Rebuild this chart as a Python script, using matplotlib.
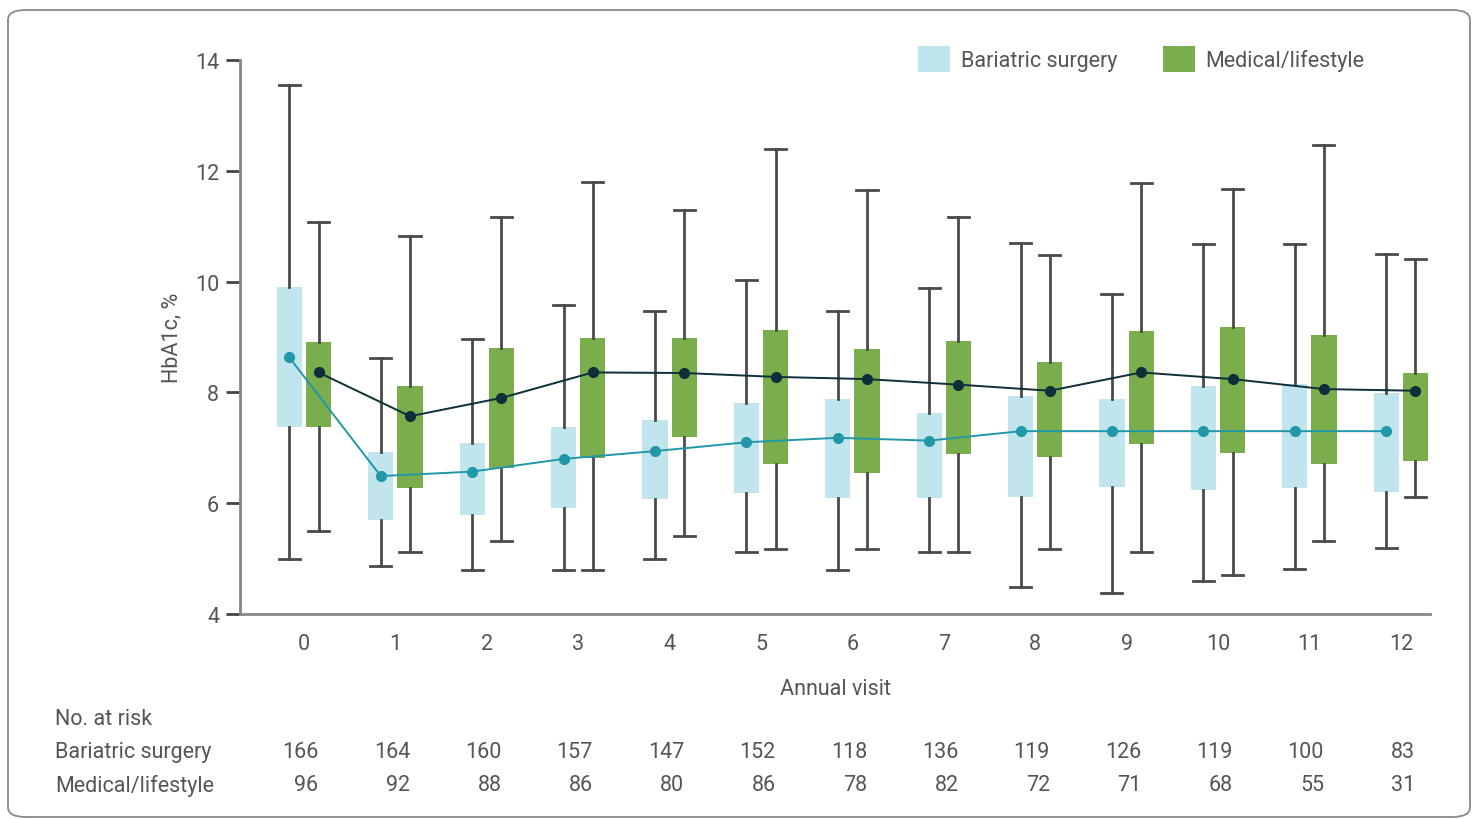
import numpy as np
import matplotlib
matplotlib.use("Agg")
import matplotlib.pyplot as plt
from matplotlib.patches import FancyBboxPatch, Patch
import matplotlib.transforms as mtransforms

plt.rcParams['font.family'] = ['Roboto', 'DejaVu Sans']

# annual visits
visits = list(range(13))

# bariatric surgery: whiskers, box (q1-q3) and mean
bar_whishi = [13.55, 8.62, 8.96, 9.58, 9.47, 10.02, 9.47, 9.88, 10.70, 9.78, 10.68, 10.68, 10.50]
bar_q3 = [9.90, 6.92, 7.09, 7.38, 7.50, 7.81, 7.88, 7.63, 7.94, 7.88, 8.12, 8.15, 7.99]
bar_q1 = [7.38, 5.70, 5.79, 5.92, 6.08, 6.19, 6.10, 6.10, 6.11, 6.30, 6.24, 6.28, 6.21]
bar_whislo = [5.00, 4.87, 4.79, 4.80, 5.00, 5.12, 4.80, 5.12, 4.49, 4.38, 4.60, 4.82, 5.20]
bar_mean = [8.63, 6.49, 6.57, 6.80, 6.94, 7.10, 7.18, 7.13, 7.30, 7.30, 7.30, 7.30, 7.30]

# medical/lifestyle
med_whishi = [11.08, 10.82, 11.17, 11.79, 11.30, 12.39, 11.65, 11.17, 10.48, 11.78, 11.67, 12.47, 10.40]
med_q3 = [8.91, 8.12, 8.80, 8.98, 8.98, 9.13, 8.78, 8.93, 8.55, 9.11, 9.18, 9.04, 8.35]
med_q1 = [7.38, 6.27, 6.64, 6.82, 7.20, 6.71, 6.55, 6.89, 6.83, 7.07, 6.91, 6.71, 6.77]
med_whislo = [5.50, 5.12, 5.31, 4.80, 5.41, 5.18, 5.18, 5.12, 5.17, 5.12, 4.71, 5.31, 6.12]
med_mean = [8.36, 7.57, 7.90, 8.36, 8.35, 8.28, 8.24, 8.14, 8.03, 8.36, 8.24, 8.06, 8.03]

# number at risk
risk_bar = [166, 164, 160, 157, 147, 152, 118, 136, 119, 126, 119, 100, 83]
risk_med = [96, 92, 88, 86, 80, 86, 78, 82, 72, 71, 68, 55, 31]

c_bar = '#c0e5ec'
c_med = '#7aad4c'
c_bar_line = '#2197a8'
c_med_line = '#0c2f3a'
c_whisk = '#4a4a4a'
c_text = '#555555'
fs = 15.5


def make_stats(lo, q1, q3, hi, mean):
    out = []
    for i in range(len(lo)):
        out.append(dict(whislo=lo[i], q1=q1[i], med=mean[i], q3=q3[i],
                        whishi=hi[i], mean=mean[i], fliers=[]))
    return out


fig = plt.figure(figsize=(14.75, 8.2), dpi=100)
ax = fig.add_axes([240 / 1475, 205 / 820, 1190 / 1475, 554 / 820])

# frame round the whole figure
frame = FancyBboxPatch((8 / 1475, 2 / 820), 1462 / 1475, 807 / 820,
                       boxstyle='round,pad=0,rounding_size=0.012',
                       transform=fig.transFigure, facecolor='none',
                       edgecolor='#8a8a8a', linewidth=1.3, zorder=0)
fig.patches.append(frame)

x = np.array(visits, dtype=float)
off = 0.16
w = 0.275

for stats, pos, col in [(make_stats(bar_whislo, bar_q1, bar_q3, bar_whishi, bar_mean), x - off, c_bar),
                        (make_stats(med_whislo, med_q1, med_q3, med_whishi, med_mean), x + off, c_med)]:
    ax.bxp(stats, positions=pos, widths=w, patch_artist=True, showfliers=False,
           boxprops=dict(facecolor=col, edgecolor='none', linewidth=0),
           whiskerprops=dict(color=c_whisk, linewidth=2.0),
           capprops=dict(color=c_whisk, linewidth=2.0),
           medianprops=dict(linewidth=0),
           capwidths=0.23, manage_ticks=False)

ax.plot(x - off, bar_mean, '-o', color=c_bar_line, markersize=7, linewidth=1.4, zorder=5)
ax.plot(x + off, med_mean, '-o', color=c_med_line, markersize=7, linewidth=1.4, zorder=5)

ax.set_xlim(-0.7, 12.32)
ax.set_ylim(4, 14)
ax.set_yticks([4, 6, 8, 10, 12, 14])
ax.set_xticks(visits)
ax.tick_params(axis='x', length=0, pad=14, labelsize=fs, labelcolor=c_text)
ax.tick_params(axis='y', length=10, width=2, color='#444444', pad=5, labelsize=fs, labelcolor=c_text)
for s in ['top', 'right']:
    ax.spines[s].set_visible(False)
for s in ['left', 'bottom']:
    ax.spines[s].set_color('#888888')
    ax.spines[s].set_linewidth(2)

ax.set_ylabel('HbA1c, %', fontsize=fs, color=c_text, labelpad=9)
ax.set_xlabel('Annual visit', fontsize=fs, color=c_text, labelpad=17)

# legend
handles = [Patch(facecolor=c_bar, edgecolor='none', label='Bariatric surgery'),
           Patch(facecolor=c_med, edgecolor='none', label='Medical/lifestyle')]
leg = fig.legend(handles=handles, loc='upper left', bbox_to_anchor=(918 / 1475, 1 - 47 / 820),
                 ncol=2, frameon=False, fontsize=fs, handlelength=1.5, handleheight=1.5,
                 handletextpad=0.5, columnspacing=2.1, labelcolor=c_text,
                 borderpad=0, borderaxespad=0)

# number at risk table
trans = mtransforms.blended_transform_factory(ax.transData, fig.transFigure)
rows_y = [1 - 720 / 820, 1 - 753 / 820, 1 - 786 / 820]
fig.text(55 / 1475, rows_y[0], 'No. at risk', fontsize=fs, color=c_text, va='center')
fig.text(55 / 1475, rows_y[1], 'Bariatric surgery', fontsize=fs, color=c_text, va='center')
fig.text(55 / 1475, rows_y[2], 'Medical/lifestyle', fontsize=fs, color=c_text, va='center')
for i in range(len(visits)):
    ax.text(x[i] + 0.16, rows_y[1], str(risk_bar[i]), transform=trans, ha='right',
            va='center', fontsize=fs, color=c_text, clip_on=False)
    ax.text(x[i] + 0.16, rows_y[2], str(risk_med[i]), transform=trans, ha='right',
            va='center', fontsize=fs, color=c_text, clip_on=False)

fig.savefig('out.png', dpi=100)
